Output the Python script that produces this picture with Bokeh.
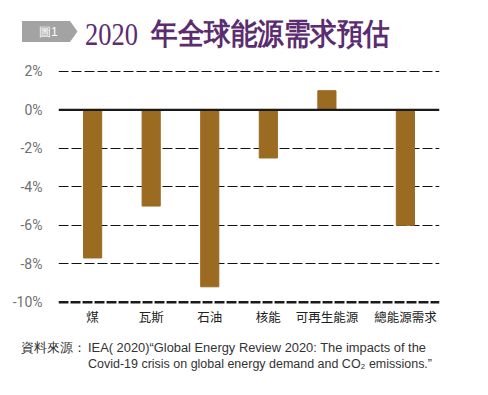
from bokeh.plotting import figure
from bokeh.layouts import column
from bokeh.models import FactorRange, Range1d, Span, FixedTicker, Div
from bokeh.embed import file_html
from bokeh.resources import INLINE

categories = ["煤", "瓦斯", "石油", "核能", "可再生能源", "總能源需求"]
groups = ["", "", "", "", "", " "]
values = [-7.7, -5.0, -9.2, -2.5, 1.0, -6.0]
tick_values = [2, 0, -2, -4, -6, -8, -10]
tick_labels = ["2%", "0%", "-2%", "-4%", "-6%", "-8%", "-10%"]
title_num = "2020"
title_text = "年全球能源需求預估"
badge_text = "圖1"
source_head = "資料來源："
source_line1 = "IEA( 2020)“Global Energy Review 2020: The impacts of the"
source_line2 = "Covid-19 crisis on global energy demand and CO₂ emissions.”"

factors = list(zip(groups, categories))

W = 472
H_TOP, H_MAIN, H_SRC = 52, 284, 43

# ---- title strip (inline SVG) ----
title_svg = f"""
<svg xmlns="http://www.w3.org/2000/svg" width="{W}" height="{H_TOP}" style="display:block">
  <polygon points="22,21 70,21 77.5,31.5 70,42 22,42" fill="#a3a3a3"/>
  <text x="39" y="36" font-family="Noto Sans CJK TC" font-size="12" fill="#ffffff">{badge_text}</text>
  <text x="85" y="45" style="font-family:'Liberation Serif','DejaVu Serif',serif" font-size="31"
        fill="#5b2c6f" textLength="53" lengthAdjust="spacingAndGlyphs">{title_num}</text>
  <text x="151" y="44" font-family="Noto Sans CJK TC" font-weight="bold" font-size="29.5"
        fill="#5b2c6f" textLength="239" lengthAdjust="spacingAndGlyphs">{title_text}</text>
</svg>"""
t = Div(text=title_svg, width=W, height=H_TOP, margin=(0, 0, 0, 0))

# ---- main chart ----
FL, FT, FR, FB = 58, 60, 439, 304   # frame edges in page pixels
p = figure(width=W, height=H_MAIN, output_backend="svg", toolbar_location=None,
           x_range=FactorRange(factors=factors, range_padding=0.026,
                               group_padding=0.34, factor_padding=0.0),
           y_range=Range1d(-10.12, 2.57))
p.min_border_left = FL
p.min_border_right = W - FR
p.min_border_top = FT - H_TOP
p.min_border_bottom = H_TOP + H_MAIN - FB
p.outline_line_color = None
p.background_fill_color = "white"
p.border_fill_color = "white"

p.xgrid.grid_line_color = None
p.ygrid.ticker = FixedTicker(ticks=[v for v in tick_values if v not in (0, -10)])
p.ygrid.grid_line_color = "#111111"
p.ygrid.grid_line_width = 1
p.ygrid.grid_line_dash = "10 3"

p.vbar(x=factors, top=values, bottom=0, width=0.31, color="#9c6b22")

p.add_layout(Span(location=0, dimension="width", line_color="#1a1a1a", line_width=2.2))
p.add_layout(Span(location=-10, dimension="width", line_color="#1a1a1a", line_width=2.5,
                  line_dash="10 2"))

p.yaxis.ticker = FixedTicker(ticks=tick_values)
p.yaxis.major_label_overrides = {v: l for v, l in zip(tick_values, tick_labels)}
p.yaxis.axis_line_color = None
p.yaxis.major_tick_line_color = None
p.yaxis.minor_tick_line_color = None
p.yaxis.major_label_standoff = 10
p.yaxis.major_label_text_font = "Roboto"
p.yaxis.major_label_text_font_size = "14px"
p.yaxis.major_label_text_color = "#707070"

p.xaxis.axis_line_color = None
p.xaxis.major_tick_line_color = None
p.xaxis.minor_tick_line_color = None
p.xaxis.separator_line_color = None
p.xaxis.major_label_standoff = -4
p.xaxis.major_label_text_font = "Noto Sans CJK TC"
p.xaxis.major_label_text_font_size = "12.5px"
p.xaxis.major_label_text_color = "#222222"
p.xaxis.group_text_font_size = "1px"
p.xaxis.group_text_color = None

# ---- source strip (inline SVG) ----
src_svg = f"""
<svg xmlns="http://www.w3.org/2000/svg" width="{W}" height="{H_SRC}" style="display:block">
  <text x="21" y="16" font-family="Noto Sans CJK TC" font-size="13" fill="#333333">{source_head}</text>
  <text x="88" y="16" font-family="Noto Sans CJK TC" font-size="12.5" fill="#333333"
        textLength="338" lengthAdjust="spacingAndGlyphs">{source_line1}</text>
  <text x="88" y="32" font-family="Noto Sans CJK TC" font-size="12.5" fill="#333333"
        textLength="344" lengthAdjust="spacingAndGlyphs">{source_line2}</text>
</svg>"""
s = Div(text=src_svg, width=W, height=H_SRC, margin=(0, 0, 0, 0))

layout = column(t, p, s, spacing=0)
open("out.html", "w").write(file_html(layout, INLINE))
